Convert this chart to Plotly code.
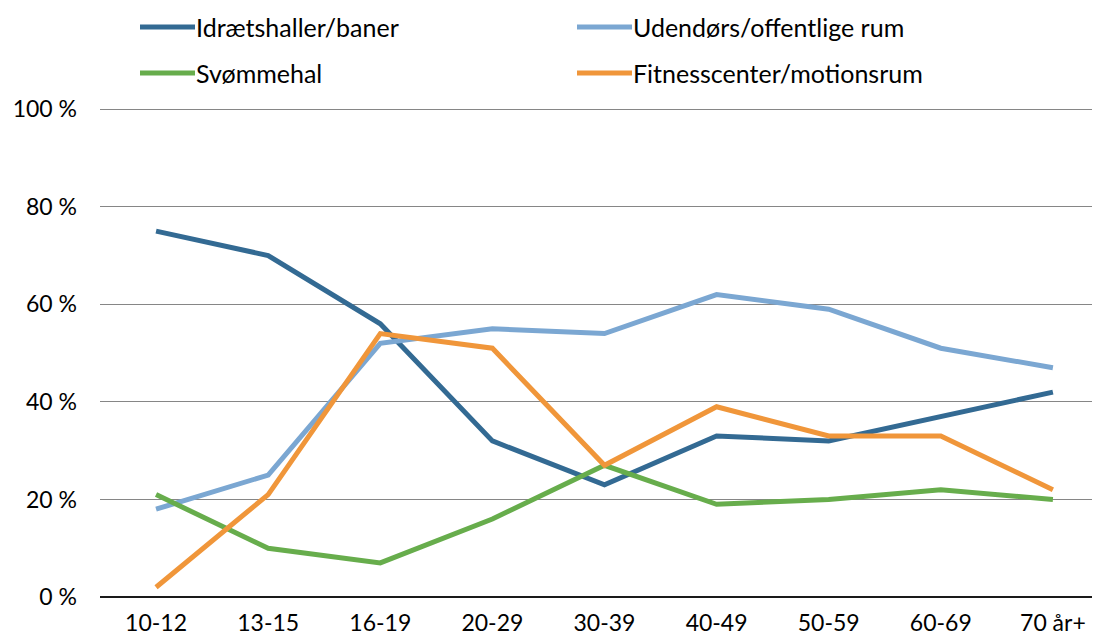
import plotly.graph_objects as go

categories = ["10-12", "13-15", "16-19", "20-29", "30-39", "40-49", "50-59", "60-69", "70 år+"]
series_names = ["Idrætshaller/baner", "Udendørs/offentlige rum", "Svømmehal", "Fitnesscenter/motionsrum"]
idraet = [75, 70, 56, 32, 23, 33, 32, 37, 42]
udendors = [18, 25, 52, 55, 54, 62, 59, 51, 47]
svommehal = [21, 10, 7, 16, 27, 19, 20, 22, 20]
fitness = [2, 21, 54, 51, 27, 39, 33, 33, 22]
colors = ["#336A93", "#7BA7D2", "#67AD4C", "#F0963A"]
y_ticks = [0, 20, 40, 60, 80, 100]
y_ticktext = [f"{v} %" for v in y_ticks]

FONT = "Lato"
OFF = 8  # page body margin
W, H = 1100 - OFF, 641 - OFF
ML, MR, MT, MB = 100 - OFF, 0, 108 - OFF, 44

fig = go.Figure()
for name, vals, col in zip(series_names, [idraet, udendors, svommehal, fitness], colors):
    fig.add_trace(go.Scatter(
        x=list(range(len(categories))), y=vals, mode="lines", name=name,
        line=dict(color=col, width=5), showlegend=False,
    ))

# manual legend (2 columns x 2 rows), positions in page pixels
pw, ph = W - ML - MR, H - MT - MB
def px(x): return (x - OFF - ML) / pw
def py(y): return (H - MB - (y - OFF)) / ph
leg_pos = [(140, 27), (577, 27), (140, 73), (577, 73)]
shapes = []
annotations = []
for name, col, (lx, ly) in zip(series_names, colors, leg_pos):
    shapes.append(dict(type="line", xref="paper", yref="paper",
                       x0=px(lx), x1=px(lx + 55), y0=py(ly), y1=py(ly),
                       line=dict(color=col, width=5)))
    annotations.append(dict(text=name, xref="paper", yref="paper",
                            x=px(lx + 54), y=py(ly), xanchor="left", yanchor="middle",
                            showarrow=False, font=dict(family=FONT, size=25, color="#000000")))

fig.update_layout(
    width=W, height=H,
    margin=dict(l=ML, r=MR, t=MT, b=MB, autoexpand=False),
    plot_bgcolor="white", paper_bgcolor="white",
    shapes=shapes, annotations=annotations,
    font=dict(family=FONT, size=23, color="#000000"),
    xaxis=dict(
        tickmode="array", tickvals=list(range(len(categories))), ticktext=categories,
        range=[-0.5, 8.42], showgrid=False, zeroline=False, showline=False,
        ticks="", ticklabelstandoff=10, automargin=False,
    ),
    yaxis=dict(
        range=[0, 100.25], tickmode="array", tickvals=y_ticks, ticktext=y_ticktext,
        showgrid=True, gridcolor="#868686", gridwidth=1,
        zeroline=True, zerolinecolor="#1a1a1a", zerolinewidth=2,
        ticks="", ticklabelstandoff=22, showline=False, automargin=False,
    ),
)

fig.write_html("out.html")
